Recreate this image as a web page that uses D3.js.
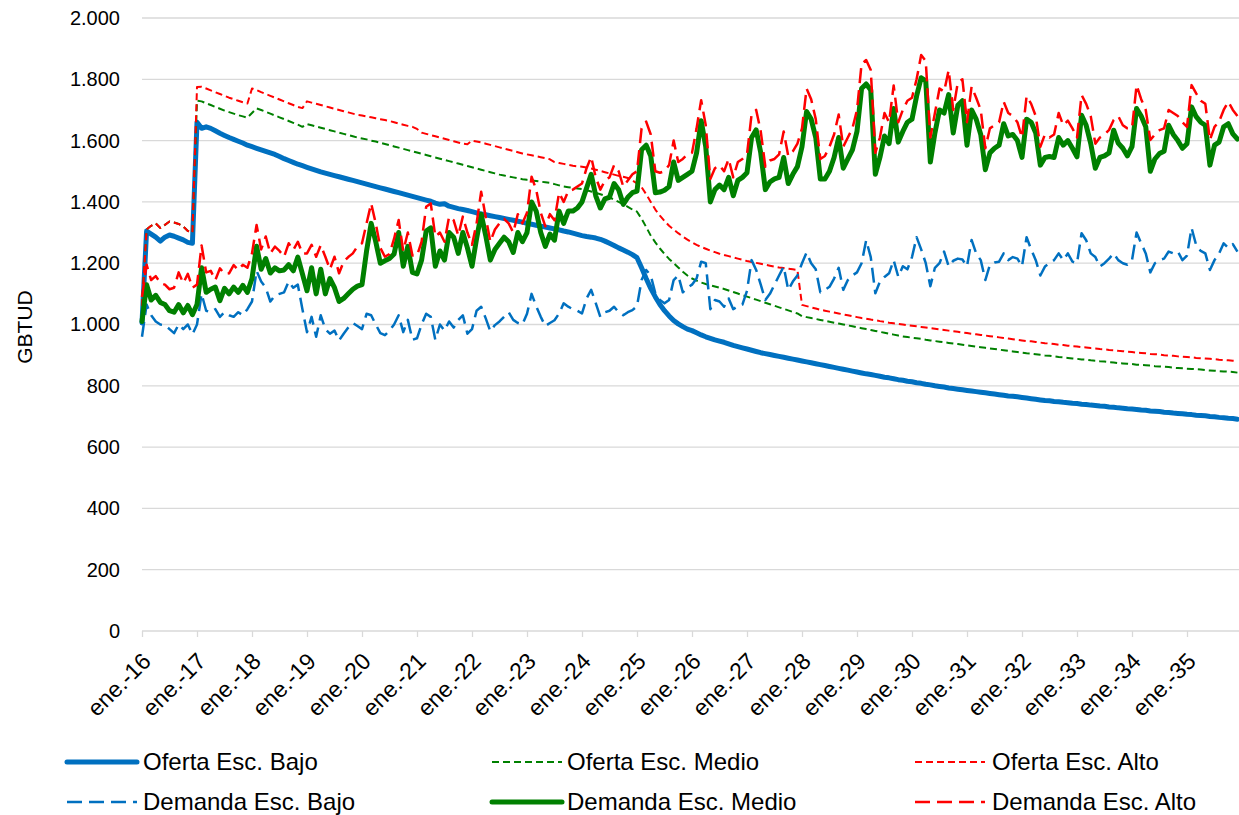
<!DOCTYPE html>
<html><head><meta charset="utf-8">
<script src="https://cdn.jsdelivr.net/npm/d3@7"></script>
<style>
body{margin:0;background:#fff}
svg{display:block}
text{font-family:"Liberation Sans",Arial,sans-serif;fill:#000}
</style>
</head><body>
<svg id="c" width="1239" height="815"></svg>
<script>
// ---------------- DATA ----------------
const tickLabels = ["ene.-16","ene.-17","ene.-18","ene.-19","ene.-20","ene.-21","ene.-22","ene.-23","ene.-24","ene.-25",
  "ene.-26","ene.-27","ene.-28","ene.-29","ene.-30","ene.-31","ene.-32","ene.-33","ene.-34","ene.-35"];
const yTickValues = [0,200,400,600,800,1000,1200,1400,1600,1800,2000];

const ofertaBajo = [
1005,1305,1295,1285,1272,1285,1292,1288,1282,1276,1268,1265,
1660,1640,1645,1640,1632,1624,1617,1610,1604,1598,1592,1585,
1580,1575,1570,1565,1560,1555,1548,1541,1535,1529,1523,1518,
1513,1508,1503,1498,1494,1490,1486,1482,1478,1474,1470,1466,
1462,1458,1454,1450,1446,1442,1438,1434,1430,1426,1422,1418,
1414,1410,1406,1402,1396,1392,1394,1386,1382,1378,1375,1372,
1368,1364,1361,1358,1355,1352,1349,1346,1343,1340,1337,1334,
1330,1327,1324,1321,1318,1315,1312,1309,1305,1302,1298,1294,
1290,1287,1285,1282,1278,1272,1265,1258,1250,1243,1236,1228,
1218,1185,1150,1118,1090,1065,1045,1028,1013,1002,993,985,
980,973,966,960,955,950,946,942,937,932,928,924,
920,916,912,908,905,902,899,896,893,890,887,884,
881,878,875,872,869,866,863,860,857,854,851,848,
845,842,839,837,834,831,828,826,823,820,818,815,
813,810,808,805,803,800,798,796,793,791,789,787,
785,783,781,779,777,775,773,771,769,767,766,764,
762,760,758,756,754,752,751,749,748,746,745,743,
742,740,739,737,736,734,733,731,730,728,727,725,
724,723,721,720,718,717,716,714,713,711,710,709,
707,706,704,703,702,700,699,697,696,694,693,691];

const ofertaMedio = [
1060,1310,1322,1330,1315,1325,1336,1333,1328,1320,1305,1300,
1730,1728,1722,1716,1710,1704,1698,1693,1688,1683,1679,1675,
1690,1705,1700,1694,1688,1682,1676,1670,1664,1658,1652,1645,
1654,1650,1646,1642,1638,1634,1630,1626,1622,1618,1614,1610,
1607,1604,1600,1597,1593,1589,1585,1581,1577,1573,1569,1565,
1561,1557,1553,1549,1545,1541,1537,1533,1529,1525,1521,1517,
1513,1509,1505,1501,1497,1493,1489,1486,1483,1480,1477,1474,
1472,1470,1468,1466,1464,1462,1458,1454,1450,1448,1446,1444,
1442,1438,1434,1430,1425,1420,1414,1408,1400,1392,1384,1375,
1368,1345,1318,1290,1268,1248,1230,1214,1200,1186,1172,1160,
1150,1143,1137,1132,1128,1124,1120,1116,1111,1106,1101,1096,
1091,1086,1081,1076,1071,1066,1061,1056,1051,1046,1041,1036,
1027,1024,1021,1018,1015,1012,1009,1006,1003,1000,997,994,
991,988,985,982,979,976,973,970,967,964,961,959,
957,955,953,950,948,946,944,942,940,938,936,934,
932,930,928,926,924,922,920,918,916,914,912,910,
908,906,905,903,901,899,898,896,894,893,891,889,
888,886,885,883,882,880,879,877,876,874,873,872,
871,869,868,867,866,864,863,862,861,859,858,857,
856,855,854,853,851,850,849,848,847,846,845,843];

const ofertaAlto = [
1060,1310,1322,1330,1315,1325,1336,1333,1328,1320,1305,1300,
1775,1776,1770,1764,1758,1752,1746,1740,1735,1730,1725,1721,
1770,1765,1758,1752,1746,1740,1734,1728,1722,1716,1710,1706,
1728,1724,1720,1716,1712,1708,1704,1700,1696,1692,1688,1684,
1682,1679,1676,1673,1670,1667,1664,1660,1656,1652,1648,1645,
1638,1626,1622,1618,1614,1610,1606,1602,1598,1594,1590,1588,
1600,1597,1594,1590,1586,1582,1578,1574,1570,1566,1562,1558,
1555,1552,1549,1546,1543,1539,1530,1527,1524,1521,1518,1516,
1515,1512,1509,1505,1501,1497,1493,1489,1485,1482,1478,1470,
1460,1448,1425,1400,1375,1355,1338,1322,1310,1298,1287,1277,
1268,1260,1253,1247,1241,1236,1231,1227,1223,1219,1215,1211,
1207,1204,1201,1198,1195,1192,1189,1186,1184,1182,1180,1178,
1064,1060,1056,1052,1048,1045,1042,1039,1036,1033,1030,1027,
1024,1021,1019,1016,1014,1011,1009,1006,1004,1002,1000,998,
996,994,992,990,988,986,984,982,980,978,976,974,
972,970,968,966,964,962,960,958,956,954,952,950,
948,946,945,943,941,939,938,936,934,933,931,929,
928,926,925,923,922,920,919,917,916,914,913,911,
910,908,907,906,904,903,902,900,899,898,896,895,
894,893,891,890,889,888,887,885,884,883,882,881];

const demandaBajo = [
960,1065,1030,1010,1000,998,985,972,1000,985,1000,968,
1000,1100,1045,1040,1050,1025,1040,1030,1025,1040,1030,1050,
1075,1175,1140,1120,1075,1095,1100,1105,1140,1120,1130,1050,
975,1025,960,1030,985,970,980,948,970,990,1005,995,
985,1035,1030,1000,972,965,980,1000,1030,975,1015,950,
955,1000,1035,1025,950,1000,980,1010,990,1015,1030,970,
985,1045,1058,1020,978,998,1010,1025,1040,1015,1005,1000,
1035,1100,1060,1025,995,1005,1014,1036,1069,1058,1050,1045,
1036,1085,1113,1070,1025,1040,1045,1058,1040,1030,1040,1047,
1060,1145,1178,1160,1102,1080,1069,1080,1145,1160,1105,1120,
1130,1150,1205,1200,1050,1080,1075,1058,1085,1050,1060,1065,
1110,1210,1178,1130,1080,1100,1130,1160,1189,1113,1140,1160,
1200,1235,1200,1180,1105,1113,1123,1150,1185,1113,1145,1160,
1170,1200,1275,1220,1102,1140,1155,1167,1210,1156,1190,1180,
1220,1285,1245,1200,1125,1185,1200,1238,1190,1208,1215,1212,
1190,1276,1232,1210,1145,1195,1202,1205,1232,1210,1220,1215,
1190,1285,1245,1210,1160,1189,1200,1210,1232,1210,1232,1205,
1200,1298,1275,1232,1220,1189,1200,1215,1232,1210,1200,1195,
1210,1300,1265,1232,1170,1200,1210,1215,1238,1232,1238,1210,
1225,1315,1259,1240,1232,1178,1210,1232,1265,1250,1262,1238];

const demandaMedio = [
1010,1130,1080,1095,1072,1065,1045,1040,1065,1038,1062,1032,
1065,1185,1105,1115,1122,1078,1118,1100,1122,1105,1128,1105,
1150,1255,1180,1215,1168,1185,1175,1178,1195,1175,1220,1165,
1110,1185,1100,1180,1100,1150,1120,1075,1085,1100,1115,1125,
1130,1240,1330,1270,1200,1208,1215,1230,1300,1190,1255,1170,
1165,1210,1305,1315,1190,1240,1210,1300,1285,1232,1300,1250,
1190,1280,1360,1290,1210,1245,1265,1285,1270,1235,1300,1270,
1300,1400,1370,1300,1255,1295,1275,1370,1330,1370,1370,1380,
1400,1445,1490,1420,1380,1410,1415,1460,1440,1392,1415,1430,
1435,1570,1585,1550,1430,1432,1438,1450,1530,1470,1480,1490,
1500,1560,1665,1580,1400,1440,1455,1440,1480,1420,1470,1480,
1495,1610,1635,1560,1440,1465,1475,1480,1545,1460,1490,1515,
1580,1695,1670,1610,1475,1475,1500,1545,1610,1510,1540,1570,
1630,1770,1785,1765,1490,1545,1615,1590,1705,1595,1630,1660,
1670,1745,1805,1795,1530,1625,1700,1690,1750,1625,1715,1730,
1585,1700,1670,1620,1505,1560,1575,1585,1655,1615,1620,1600,
1545,1670,1660,1625,1520,1545,1548,1545,1610,1585,1600,1575,
1547,1683,1650,1590,1510,1545,1550,1560,1634,1592,1575,1550,
1580,1705,1680,1645,1500,1540,1558,1565,1650,1620,1600,1575,
1590,1710,1678,1660,1650,1520,1585,1595,1645,1655,1622,1605];

const demandaAlto = [
1090,1195,1145,1158,1135,1130,1115,1120,1170,1135,1165,1120,
1130,1258,1170,1175,1145,1183,1165,1167,1194,1178,1195,1185,
1232,1325,1245,1287,1232,1254,1240,1221,1265,1243,1270,1232,
1232,1260,1221,1259,1221,1180,1221,1167,1205,1220,1232,1255,
1265,1330,1395,1330,1250,1221,1230,1280,1341,1240,1300,1225,
1225,1270,1384,1395,1287,1300,1270,1352,1340,1290,1352,1300,
1260,1330,1433,1350,1270,1310,1330,1345,1330,1300,1360,1330,
1365,1482,1440,1365,1320,1360,1340,1430,1400,1435,1440,1450,
1460,1510,1547,1480,1440,1470,1480,1520,1500,1450,1470,1490,
1500,1640,1662,1620,1500,1495,1500,1520,1600,1530,1540,1555,
1560,1640,1732,1650,1475,1510,1520,1500,1540,1480,1530,1540,
1555,1685,1700,1630,1515,1535,1540,1555,1630,1550,1565,1590,
1640,1770,1735,1670,1540,1550,1580,1620,1685,1580,1610,1640,
1700,1850,1863,1830,1560,1610,1690,1660,1780,1660,1700,1730,
1740,1800,1879,1860,1610,1690,1770,1760,1830,1700,1790,1800,
1660,1776,1740,1700,1575,1640,1650,1660,1727,1690,1680,1660,
1610,1745,1720,1680,1580,1620,1610,1620,1690,1650,1665,1640,
1610,1749,1720,1680,1590,1610,1620,1635,1667,1680,1650,1640,
1640,1781,1735,1700,1602,1620,1634,1640,1700,1690,1680,1660,
1645,1781,1754,1730,1720,1602,1645,1662,1700,1727,1700,1680];

// ---------------- CHART ----------------
(function () {
const svg = d3.select("#c");
const pLeft = 142, pRight = 1239, pTop = 18, pBottom = 631;
const nMonths = ofertaBajo.length;
const x = d3.scaleLinear().domain([0, nMonths - 1]).range([pLeft, pLeft + (nMonths - 1) * 55 / 12]);
const y = d3.scaleLinear().domain([0, 2000]).range([pBottom, pTop]);
const gridColor = "#d9d9d9";

const loc = d3.formatLocale({decimal: ",", thousands: ".", grouping: [3], currency: ["", ""]});
const fmt = loc.format(",");

// gridlines
svg.append("g").selectAll("line").data(yTickValues.filter(d => d > 0)).join("line")
  .attr("x1", pLeft).attr("x2", pRight)
  .attr("y1", d => y(d)).attr("y2", d => y(d))
  .attr("stroke", gridColor).attr("stroke-width", 1.3);

// y axis labels
const yAxis = svg.append("g").attr("transform", `translate(${pLeft},0)`)
  .call(d3.axisLeft(y).tickValues(yTickValues).tickSize(0).tickPadding(22).tickFormat(fmt));
yAxis.select(".domain").remove();
yAxis.selectAll("text").style("font-size", "20px").attr("fill", "#000");

// x axis
const xAxis = svg.append("g").attr("transform", `translate(0,${pBottom})`)
  .call(d3.axisBottom(x).tickValues(d3.range(0, nMonths, 12)).tickSize(6)
        .tickFormat((d, i) => tickLabels[i]));
xAxis.select(".domain").remove();
xAxis.selectAll(".tick line").attr("stroke", gridColor).attr("stroke-width", 1.3);
xAxis.selectAll("text")
  .style("font-size", "23px").attr("fill", "#000")
  .attr("text-anchor", "end").attr("x", 0).attr("y", 0).attr("dy", "0.35em")
  .attr("transform", "translate(4,26) rotate(-45)");
svg.append("line").attr("x1", pLeft).attr("x2", pRight).attr("y1", pBottom).attr("y2", pBottom)
  .attr("stroke", gridColor).attr("stroke-width", 1.3);

// y title
svg.append("text").attr("transform", "translate(32,327) rotate(-90)")
  .attr("text-anchor", "middle").style("font-size", "21px").text("GBTUD");

// series
const series = [
  {name: "Oferta Esc. Bajo",   data: ofertaBajo,   color: "#0070C0", width: 5,   dash: null},
  {name: "Oferta Esc. Medio",  data: ofertaMedio,  color: "#008000", width: 2,   dash: "7,4"},
  {name: "Oferta Esc. Alto",   data: ofertaAlto,   color: "#FF0000", width: 2,   dash: "7,4"},
  {name: "Demanda Esc. Bajo",  data: demandaBajo,  color: "#0070C0", width: 2.5, dash: "15,7"},
  {name: "Demanda Esc. Medio", data: demandaMedio, color: "#008000", width: 5,   dash: null},
  {name: "Demanda Esc. Alto",  data: demandaAlto,  color: "#FF0000", width: 2.5, dash: "15,7"}
];
const line = d3.line().x((d, i) => x(i)).y(d => y(d));
svg.append("g").selectAll("path").data(series).join("path")
  .attr("d", s => line(s.data))
  .attr("fill", "none")
  .attr("stroke", s => s.color)
  .attr("stroke-width", s => s.width)
  .attr("stroke-dasharray", s => s.dash)
  .attr("stroke-linejoin", "round")
  .attr("stroke-linecap", s => s.dash ? "butt" : "round");

// legend
const legCols = [{lx: 67, tx: 143}, {lx: 492, tx: 567}, {lx: 915, tx: 992}];
const legRows = [762, 802];
const leg = svg.append("g");
series.forEach((s, k) => {
  const c = legCols[k % 3], r = legRows[Math.floor(k / 3)];
  leg.append("line").attr("x1", c.lx).attr("x2", c.lx + 70).attr("y1", r).attr("y2", r)
    .attr("stroke", s.color).attr("stroke-width", s.width)
    .attr("stroke-dasharray", s.dash).attr("stroke-linecap", s.dash ? "butt" : "round");
  leg.append("text").attr("x", c.tx).attr("y", r).attr("dy", "0.35em")
    .style("font-size", "24px").text(s.name);
});
})();
</script>
</body></html>
